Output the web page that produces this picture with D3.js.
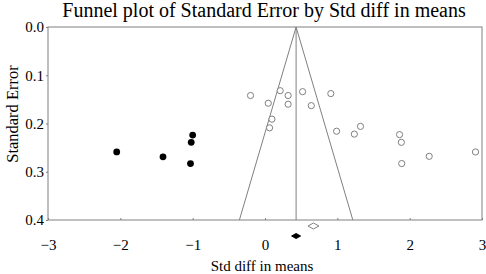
<!DOCTYPE html>
<html><head><meta charset="utf-8">
<script src="https://cdn.jsdelivr.net/npm/d3@7"></script>
<style>body{margin:0;background:#fff}svg{display:block}text{font-family:"Liberation Serif","Times New Roman",serif}</style>
</head><body><svg id="c" width="486" height="274"></svg>
<script>
const observedX = [-0.20,0.21,0.32,0.52,0.91,0.045,0.32,0.64,0.096,0.063,0.99,1.32,1.235,1.86,1.885,2.27,2.91,1.89];
const observedSE = [0.142,0.132,0.142,0.134,0.138,0.158,0.160,0.163,0.191,0.209,0.216,0.206,0.222,0.223,0.239,0.268,0.259,0.283];
const imputedX = [-2.05,-1.41,-1.00,-1.02,-1.03];
const imputedSE = [0.259,0.269,0.224,0.239,0.283];
const observedMean = 0.67;
const adjustedMean = 0.43;
const xTicks = [-3,-2,-1,0,1,2,3];
const yTicks = [0.0,0.1,0.2,0.3,0.4];
const title = "Funnel plot of Standard Error by Std diff in means";

const svg = d3.select("#c");
const L=48,R=482,T=27,B=220;
const x = d3.scaleLinear().domain([-3,3]).range([L,R]);
const y = d3.scaleLinear().domain([0,0.4]).range([T,B]);
const gray="#808080";

svg.append("text").attr("x",264).attr("y",17).attr("text-anchor","middle").attr("font-size",20).attr("fill","#000").text(title);

// frame
svg.append("rect").attr("x",L).attr("y",T).attr("width",R-L).attr("height",B-T).attr("fill","none").attr("stroke",gray).attr("stroke-width",1);

// axes
const xa = svg.append("g").attr("transform",`translate(0,${B})`).call(d3.axisBottom(x).tickValues(xTicks).tickSize(-2).tickPadding(19).tickFormat(d=>d<0?"\u2212"+Math.abs(d):d));
xa.select(".domain").remove();
xa.selectAll("line").attr("stroke",gray);
xa.selectAll("text").attr("font-size",15).attr("font-family","Liberation Serif").attr("fill","#000");
const ya = svg.append("g").attr("transform",`translate(${L},0)`).call(d3.axisLeft(y).tickValues(yTicks).tickSize(2).tickPadding(2).tickFormat(d3.format(".1f")));
ya.select(".domain").remove();
ya.selectAll("line").attr("stroke",gray);
ya.selectAll("text").attr("font-size",15).attr("font-family","Liberation Serif").attr("fill","#000");

svg.append("text").attr("x",262).attr("y",271).attr("text-anchor","middle").attr("font-size",15).text("Std diff in means");
svg.append("text").attr("transform","translate(18,114) rotate(-90)").attr("text-anchor","middle").attr("font-size",16.5).text("Standard Error");

// funnel
const seMax=0.4;
svg.append("path").attr("d",d3.line()([[x(adjustedMean-1.96*seMax),y(seMax)],[x(adjustedMean),y(0)],[x(adjustedMean+1.96*seMax),y(seMax)]])).attr("fill","none").attr("stroke",gray).attr("stroke-width",1);
svg.append("line").attr("x1",x(adjustedMean)).attr("x2",x(adjustedMean)).attr("y1",y(0)).attr("y2",y(seMax)).attr("stroke",gray);

// points
svg.append("g").selectAll("circle").data(observedX).join("circle")
 .attr("cx",(d)=>x(d)).attr("cy",(d,i)=>y(observedSE[i])).attr("r",3.1)
 .attr("fill","#fff").attr("stroke",gray).attr("stroke-width",1);
svg.append("g").selectAll("circle").data(imputedX).join("circle")
 .attr("cx",(d)=>x(d)).attr("cy",(d,i)=>y(imputedSE[i])).attr("r",3.4)
 .attr("fill","#000");

// diamonds
function diamond(cx,cy,hw,hh){return `M${cx-hw},${cy}L${cx},${cy-hh}L${cx+hw},${cy}L${cx},${cy+hh}Z`;}
svg.append("path").attr("d",diamond(x(observedMean),226,5.5,3)).attr("fill","#fff").attr("stroke",gray);
svg.append("path").attr("d",diamond(x(adjustedMean),236,4.5,2.5)).attr("fill","#000").attr("stroke","#000");
</script></body></html>
